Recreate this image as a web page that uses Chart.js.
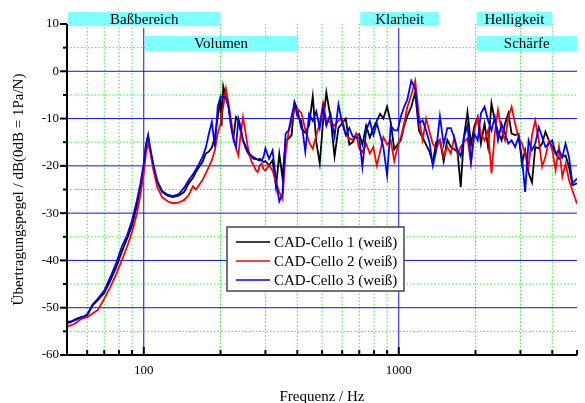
<!DOCTYPE html>
<html>
<head>
<meta charset="utf-8">
<script src="https://cdn.jsdelivr.net/npm/chart.js@4.4.0/dist/chart.umd.min.js"></script>
<style>
  body { margin: 0; background: #fff; }
</style>
</head>
<body>
<canvas id="chart" width="585" height="403"></canvas>
<script>
// frequency grid (Hz) shared by the three measurements
const freqs = [50,52,54,56,58,60,63,66,70,74,78,82,86,90,94,97,100,102,104,106,
  109,113,118,124,130,137,144,150,156,160,165,170,175,180,185,190,195,200,202,205,
  210,215,220,225,230,235,240,245,250,255,260,265,270,275,280,285,290,295,300,310,
  320,330,340,350,360,
  370,380,390,400,415,430,445,460,475,490,505,520,540,560,580,600,620,640,660,680,
  700,720,745,770,795,820,845,870,900,930,960,990,1020,1050,1080,1120,1160,1200,1240,1280,
  1320,1360,1400,1450,1500,1550,1600,1650,1700,1750,1800,1860,1920,1980,2040,2100,2170,2240,2310,2380,
  2450,2530,2610,2690,2770,2860,2950,3040,3130,3230,3330,3430,3540,3650,3760,3880,4000,4120,4250,4380,
  4510,4650,4800,5000];

const cello1 = [-53.0,-52.9,-52.4,-52.1,-51.9,-51.6,-49.5,-48.4,-46.9,-44.2,
  -41.4,-38.2,-35.4,-32.6,-28.3,-24.5,-20.2,-15.6,-13.5,-16.5,
  -20.0,-23.5,-25.5,-26.3,-26.6,-26.3,-25.5,-23.7,-22.5,-21.3,
  -20.2,-19.2,-17.4,-17.0,-16.1,-13.9,-9.7,-6.1,-11.5,-3.2,
  -5.5,-7.5,-11.1,-13.9,-9.7,-10.4,-12.8,-14.6,-16.0,-17.1,
  -17.8,-18.1,-18.5,-18.5,-18.7,-18.5,-18.8,-19.2,-19.0,-19.9,
  -18.8,-24.5,-17.5,-22.5,-14.6,
  -14.2,-13.5,-6.5,-8.0,-12.0,-13.0,-11.4,-5.3,-15.0,-19.5,
  -10.5,-4.5,-9.8,-18.0,-12.0,-11.0,-10.0,-15.5,-15.0,-13.5,
  -13.3,-15.5,-11.5,-14.0,-12.0,-10.5,-9.0,-10.0,-7.5,-10.8,
  -16.5,-15.5,-14.5,-11.5,-9.5,-7.5,-4.5,-12.5,-14.0,-15.5,
  -17.0,-19.5,-15.0,-14.5,-19.0,-14.5,-16.0,-16.5,-17.0,-24.5,
  -14.0,-8.6,-15.5,-11.5,-9.7,-15.3,-11.1,-16.0,-6.8,-10.4,
  -12.8,-14.6,-11.1,-8.9,-13.2,-13.5,-13.2,-19.5,-16.7,-21.5,
  -23.5,-16.0,-16.3,-15.3,-12.8,-14.6,-16.0,-17.4,-18.5,-18.1,
  -17.8,-20.2,-24.1,-23.7];

const cello2 = [-54.0,-53.7,-53.3,-52.6,-52.2,-52.0,-51.2,-50.5,-48.1,-45.6,
  -42.9,-40.0,-37.1,-34.0,-30.1,-26.2,-21.6,-17.4,-15.3,-17.0,
  -20.8,-24.5,-26.6,-27.5,-27.9,-27.8,-27.2,-26.2,-24.3,-25.0,
  -24.0,-23.0,-21.6,-20.2,-18.8,-16.7,-13.2,-11.1,-9.0,-7.5,
  -3.7,-6.8,-10.4,-13.9,-16.3,-17.8,-13.2,-9.7,-12.5,-15.6,
  -17.8,-19.2,-19.9,-20.9,-21.3,-19.9,-19.5,-20.7,-21.0,-19.9,
  -21.0,-23.5,-25.5,-27.0,-17.4,
  -12.8,-10.5,-8.0,-7.9,-8.8,-12.3,-15.0,-16.4,-13.5,-11.0,
  -6.8,-10.4,-10.8,-11.5,-10.4,-10.0,-13.5,-14.2,-14.5,-13.2,
  -16.4,-17.1,-15.3,-17.4,-16.0,-19.9,-17.0,-13.9,-15.5,-14.6,
  -19.0,-16.0,-13.9,-11.0,-7.6,-5.0,-2.0,-9.5,-14.5,-10.0,
  -12.8,-15.3,-16.5,-14.5,-18.0,-16.0,-17.4,-14.0,-17.5,-16.0,
  -15.0,-14.2,-19.5,-12.5,-9.7,-13.2,-14.6,-12.5,-21.6,-13.2,
  -8.2,-12.5,-14.6,-9.7,-7.5,-11.1,-13.9,-15.3,-17.4,-20.2,
  -13.5,-10.4,-14.6,-20.2,-18.1,-14.6,-16.7,-20.9,-16.0,-22.3,
  -19.5,-23.0,-25.2,-28.0];

const cello3 = [-53.3,-53.0,-52.6,-52.2,-51.9,-51.4,-49.3,-48.1,-46.4,-43.5,
  -40.5,-37.1,-34.7,-31.5,-27.3,-23.8,-19.5,-15.5,-13.8,-16.2,
  -19.7,-23.2,-25.3,-26.1,-26.4,-26.0,-24.6,-23.0,-21.8,-20.8,
  -19.5,-18.1,-16.2,-13.2,-10.7,-16.0,-7.5,-5.4,-5.5,-5.4,
  -5.7,-7.5,-11.8,-14.6,-16.0,-10.0,-11.8,-14.6,-15.6,-16.7,
  -17.4,-17.9,-18.2,-18.5,-18.7,-18.9,-18.8,-18.1,-16.3,-18.5,
  -16.7,-23.0,-27.5,-26.0,-13.2,
  -12.5,-9.5,-6.8,-9.5,-10.5,-17.0,-9.0,-10.5,-8.5,-12.0,
  -7.5,-11.5,-9.0,-13.8,-7.0,-11.0,-13.5,-12.0,-13.8,-14.0,
  -14.0,-20.2,-12.5,-10.5,-13.5,-11.0,-13.5,-16.0,-22.0,-11.5,
  -12.5,-12.5,-9.5,-7.5,-6.0,-2.0,-3.7,-11.0,-10.4,-12.5,
  -15.0,-20.0,-17.0,-9.5,-15.5,-12.0,-12.0,-14.0,-16.7,-18.0,
  -14.0,-11.5,-19.0,-13.2,-14.6,-8.9,-7.5,-10.4,-12.5,-9.7,
  -14.6,-11.1,-13.2,-15.3,-14.6,-16.0,-13.9,-18.1,-25.5,-14.6,
  -16.7,-15.3,-11.8,-13.9,-16.0,-15.3,-14.6,-17.4,-16.7,-18.1,
  -15.3,-18.1,-23.7,-22.7];

const seriesNames = ["CAD-Cello 1 (weiß)", "CAD-Cello 2 (weiß)", "CAD-Cello 3 (weiß)"];
const seriesColors = ["#000000", "#ff0000", "#0000ff"];

const xTicks = [50,60,70,80,90,100,200,300,400,500,600,700,800,900,1000,2000,3000,4000,5000];
const xLabeled = [100, 1000];
const yMajor = [10,0,-10,-20,-30,-40,-50,-60];
const yMinor = [5,-5,-15,-25,-35,-45,-55];

// frequency bands shown as cyan boxes above the plot
const bandNames = ["Baßbereich", "Volumen", "Klarheit", "Helligkeit", "Schärfe"];
const bandFrom = [50, 100, 700, 2000, 2000];
const bandTo = [200, 400, 1440, 4000, 5000];
const bandRow = [0, 1, 0, 0, 1];

const SERIF = "'Liberation Serif', 'Times New Roman', serif";
Chart.defaults.font.family = SERIF;
Chart.defaults.color = "#000";

function hline(ctx, x1, x2, y) { ctx.beginPath(); ctx.moveTo(x1, y); ctx.lineTo(x2, y); ctx.stroke(); }
function vline(ctx, x, y1, y2) { ctx.beginPath(); ctx.moveTo(x, y1); ctx.lineTo(x, y2); ctx.stroke(); }

const framePlugin = {
  id: "frame",
  beforeDatasetsDraw(chart) {
    const { ctx, chartArea: a, scales: { x, y } } = chart;
    ctx.save();
    // dotted green minor grid
    ctx.lineWidth = 1;
    ctx.strokeStyle = "#2bee2b";
    ctx.setLineDash([1.5, 2]);
    xTicks.forEach(v => {
      if (xLabeled.includes(v) || v === 50 || v === 5000) return;
      vline(ctx, x.getPixelForValue(v), a.top, a.bottom);
    });
    yMinor.forEach(v => hline(ctx, a.left, a.right, y.getPixelForValue(v)));
    // solid blue major grid
    ctx.setLineDash([]);
    ctx.strokeStyle = "#1010ee";
    xLabeled.forEach(v => vline(ctx, x.getPixelForValue(v), a.top + 4, a.bottom));
    yMajor.forEach(v => {
      if (v === 10 || v === -60) return;
      hline(ctx, a.left, a.right, y.getPixelForValue(v));
    });
    ctx.restore();
  },
  afterDatasetsDraw(chart) {
    const { ctx, chartArea: a, scales: { x, y } } = chart;
    ctx.save();
    // axes
    ctx.strokeStyle = "#000";
    ctx.lineWidth = 2;
    vline(ctx, a.left, a.top, a.bottom + 1);
    hline(ctx, a.left - 1, a.right, a.bottom);
    yMajor.forEach(v => hline(ctx, a.left - 7, a.left, y.getPixelForValue(v)));
    yMinor.forEach(v => hline(ctx, a.left - 4, a.left, y.getPixelForValue(v)));
    xTicks.forEach(v => {
      const len = xLabeled.includes(v) ? 8 : 5;
      vline(ctx, x.getPixelForValue(v), a.bottom, a.bottom - len);
    });

    // band boxes
    ctx.font = "15px " + SERIF;
    ctx.textAlign = "center";
    ctx.textBaseline = "middle";
    bandNames.forEach((name, i) => {
      const x1 = x.getPixelForValue(bandFrom[i]) + 1;
      const x2 = x.getPixelForValue(bandTo[i]);
      const top = bandRow[i] === 0 ? a.top - 12 : a.top + 12;
      const h = bandRow[i] === 0 ? 14 : 15;
      ctx.fillStyle = "#80ffff";
      ctx.fillRect(x1, top, x2 - x1, h);
      ctx.fillStyle = "#000";
      ctx.fillText(name, (x1 + x2) / 2, top + h / 2 + 1);
    });

    // legend
    const lx = 227, ly = 227, lw = 177, lh = 64;
    ctx.fillStyle = "#fff";
    ctx.fillRect(lx, ly, lw, lh);
    ctx.strokeStyle = "#444";
    ctx.lineWidth = 1.5;
    ctx.strokeRect(lx, ly, lw, lh);
    ctx.textAlign = "left";
    chart.data.datasets.forEach((ds, i) => {
      const ry = ly + 15 + i * 19;
      ctx.strokeStyle = ds.borderColor;
      ctx.lineWidth = 1.6;
      hline(ctx, lx + 9, lx + 43, ry);
      ctx.fillStyle = "#000";
      ctx.fillText(ds.label, lx + 47, ry + 1);
    });
    ctx.restore();
  }
};

const series = [cello1, cello2, cello3];
const datasets = series.map((vals, i) => ({
  label: seriesNames[i],
  data: freqs.map((f, j) => ({ x: f, y: vals[j] })),
  borderColor: seriesColors[i],
  borderWidth: 1.8,
  pointRadius: 0,
  tension: 0,
  fill: false,
  order: 3 - i
}));

new Chart(document.getElementById("chart"), {
  type: "line",
  data: { datasets },
  options: {
    responsive: false,
    animation: false,
    devicePixelRatio: 1,
    layout: { padding: { left: 0, right: 8, top: 24, bottom: 0 } },
    plugins: { legend: { display: false }, tooltip: { enabled: false } },
    scales: {
      x: {
        type: "logarithmic",
        min: 50,
        max: 5000,
        afterBuildTicks: s => { s.ticks = xTicks.map(v => ({ value: v })); },
        afterFit: s => { s.height = 48; },
        grid: { display: false, drawTicks: false },
        border: { display: false },
        ticks: {
          autoSkip: false,
          maxRotation: 0,
          padding: 8,
          font: { size: 13 },
          callback: v => xLabeled.includes(v) ? String(v) : ""
        },
        title: { display: true, text: "Frequenz / Hz", font: { size: 15 }, padding: { top: 0, bottom: -3 } }
      },
      y: {
        min: -60,
        max: 10,
        afterFit: s => { s.width = 67; },
        grid: { display: false, drawTicks: false },
        border: { display: false },
        ticks: { stepSize: 10, padding: 8, font: { size: 13 } },
        title: { display: true, text: "Übertragungspegel / dB(0dB = 1Pa/N)", font: { size: 15 }, padding: { top: 10, bottom: 0 } }
      }
    }
  },
  plugins: [framePlugin]
});
</script>
</body>
</html>
